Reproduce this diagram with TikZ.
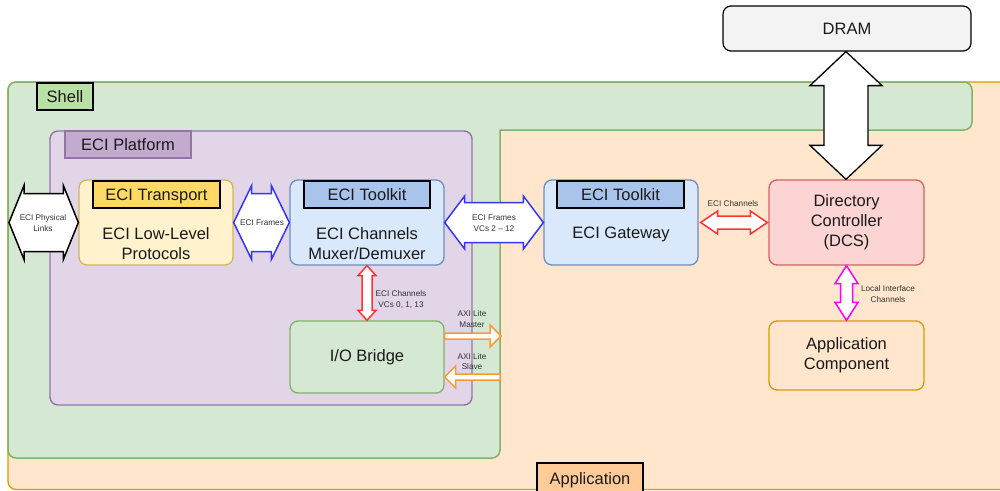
\documentclass[tikz,border=0pt]{standalone}
\usepackage{fontspec}
\setmainfont{Liberation Sans}
\usetikzlibrary{calc}

\definecolor{appfill}{HTML}{FFE6CC}
\definecolor{appline}{HTML}{D79B00}
\definecolor{applbl}{HTML}{FFCC99}
\definecolor{shellfill}{HTML}{D5E8D4}
\definecolor{shellline}{HTML}{82B366}
\definecolor{shelllbl}{HTML}{B9E0A5}
\definecolor{platfill}{HTML}{E1D5E7}
\definecolor{platline}{HTML}{9673A6}
\definecolor{platlbl}{HTML}{C3ABD0}
\definecolor{yelfill}{HTML}{FFF2CC}
\definecolor{yelline}{HTML}{D6B656}
\definecolor{yellbl}{HTML}{FFD966}
\definecolor{bluefill}{HTML}{DAE8FC}
\definecolor{blueline}{HTML}{6C8EBF}
\definecolor{bluelbl}{HTML}{A9C4EB}
\definecolor{redfill}{HTML}{FDD4D4}
\definecolor{redline}{HTML}{D06262}
\definecolor{greyfill}{HTML}{F3F3F3}
\definecolor{arblue}{HTML}{3535F5}
\definecolor{arred}{HTML}{FF3333}
\definecolor{armag}{HTML}{FF00FF}
\definecolor{arorange}{HTML}{FF9933}
\definecolor{txt}{HTML}{1A1A1A}
\definecolor{smalltxt}{HTML}{333333}

% double-headed block arrow: style, from, to, body half width, head half width, head length
\newcommand\dblarrow[6]{%
  \path[#1] let \p1=(#2), \p2=(#3),
      \n1={atan2(\y2-\y1,\x2-\x1)}, \n2={veclen(\x2-\x1,\y2-\y1)} in
    [shift={(\p1)}, rotate=\n1]
    (0,0) -- (#6,#5) -- (#6,#4) -- (\n2-#6,#4) -- (\n2-#6,#5) -- (\n2,0)
    -- (\n2-#6,-#5) -- (\n2-#6,-#4) -- (#6,-#4) -- (#6,-#5) -- cycle;}
% single-headed block arrow: style, tail, tip, body half width, head half width, head length
\newcommand\onearrow[6]{%
  \path[#1] let \p1=(#2), \p2=(#3),
      \n1={atan2(\y2-\y1,\x2-\x1)}, \n2={veclen(\x2-\x1,\y2-\y1)} in
    [shift={(\p1)}, rotate=\n1]
    (0,#4) -- (\n2-#6,#4) -- (\n2-#6,#5) -- (\n2,0)
    -- (\n2-#6,-#5) -- (\n2-#6,-#4) -- (0,-#4) -- cycle;}

\begin{document}
\begin{tikzpicture}[x=1pt,y=-1pt,
  mainfont/.style={font=\fontsize{16.5}{19.8}\selectfont, text=txt},
  smallfont/.style={font=\fontsize{8.2}{10.8}\selectfont, text=smalltxt, align=center},
  box/.style={draw, line width=1.3pt, rounded corners=8pt, inner sep=0pt},
  tag/.style={draw, line width=1.2pt, inner sep=0pt, mainfont, text height=11.8pt, text depth=0pt},
  bodytext/.style={mainfont, align=center, inner sep=0pt},
  blockarr/.style={fill=white, line width=1.5pt, line join=miter, miter limit=10},
]
\path[use as bounding box] (0,0) rectangle (1000,490);
\clip (0,0) rectangle (1000,490);

% Application region
\draw[fill=appfill, draw=appline, line width=1.3pt, rounded corners=8pt]
  (8,82) rectangle (1014,489.5);

% Shell region (L-shaped)
\draw[fill=shellfill, draw=shellline, line width=1.5pt, rounded corners=8pt]
  (8,82) -- (972,82) -- (972,130) [sharp corners] -- (500,130)
  [rounded corners=8pt] -- (500,458) -- (8,458) -- cycle;
\node[tag, fill=shelllbl, minimum width=56pt, minimum height=27pt] (shelltag) at (65,96.5) {Shell};

% ECI Platform
\draw[fill=platfill, draw=platline, line width=1.4pt, rounded corners=8pt]
  (50,131) rectangle (472,405);
\node[tag, draw=platline, fill=platlbl, minimum width=126pt, minimum height=27pt] (plattag) at (128,144.5) {ECI Platform};

\node[tag, fill=applbl, minimum width=106pt, minimum height=32pt] (apptag) at (590,479) {Application};

% functional blocks
\node[box, fill=yelfill, draw=yelline, minimum width=154pt, minimum height=85pt] (trans) at (156,222.5) {};
\node[tag, fill=yellbl, minimum width=127pt, minimum height=27pt] (transtag) at (156.5,194.5) {ECI Transport};
\node[bodytext] (transtxt) at (156,243.5) {ECI Low-Level\\Protocols};

\node[box, fill=bluefill, draw=blueline, minimum width=154pt, minimum height=85pt] (mux) at (367,222.5) {};
\node[tag, fill=bluelbl, minimum width=126pt, minimum height=27pt] (muxtag) at (367,194.5) {ECI Toolkit};
\node[bodytext] (muxtxt) at (367,243.5) {ECI Channels\\Muxer/Demuxer};

\node[box, fill=bluefill, draw=blueline, minimum width=154pt, minimum height=85pt] (gw) at (621,222.5) {};
\node[tag, fill=bluelbl, minimum width=127pt, minimum height=27pt] (gwtag) at (620.5,194.5) {ECI Toolkit};
\node[bodytext] (gwtxt) at (621,234) {ECI Gateway};

\node[box, fill=redfill, draw=redline, minimum width=155pt, minimum height=85pt, bodytext] (dcs) at (846.5,222.5) {Directory\\Controller\\(DCS)};

\node[box, fill=appfill, draw=appline, minimum width=155pt, minimum height=69pt, bodytext] (appc) at (846.5,355.5) {Application\\Component};

\node[box, fill=shellfill, draw=shellline, minimum width=154pt, minimum height=72pt, bodytext] (iob) at (367,357) {I/O Bridge};

\node[box, fill=greyfill, draw=black, line width=1.2pt, minimum width=248pt, minimum height=45pt, bodytext] (dram) at (847,28.5) {DRAM};

% connector end points on the region borders
\coordinate (phys) at (9,222.5);
\coordinate (axiout) at (501,336);
\coordinate (axiin) at (500,377);

% block arrows
\dblarrow{blockarr, draw=black}{phys}{trans.west}{29}{37}{15}
\dblarrow{blockarr, draw=arblue}{trans.east}{mux.west}{29}{37}{18}
\dblarrow{blockarr, draw=arblue}{mux.east}{gw.west}{20}{26.5}{20}
\dblarrow{blockarr, draw=arred}{$(gw.east)+(2,0)$}{$(dcs.west)+(-1,0)$}{6.5}{11.5}{17}
\dblarrow{blockarr, draw=arred}{mux.south}{iob.north}{5}{9}{10}
\dblarrow{blockarr, draw=armag}{dcs.south}{appc.north}{6}{11.5}{18}
\dblarrow{blockarr, draw=black, line width=1.3pt}{$(dram.south)+(-1,0)$}{$(dcs.north)+(-0.5,0)$}{22}{36}{34}
\onearrow{blockarr, draw=arorange}{iob.east |- axiout}{axiout}{3}{11}{11}
\onearrow{blockarr, draw=arorange}{axiin}{iob.east |- axiin}{3}{11}{11}

% arrow captions
\node[smallfont] (physlbl) at (43,223) {ECI Physical\\Links};
\node[smallfont] (frameslbl) at (262,222.5) {ECI Frames};
\node[smallfont] (vclbl) at (494,223.5) {ECI Frames\\VCs 2 -- 12};
\node[smallfont] (chlbl) at (733,204) {ECI Channels};
\node[smallfont] (vc2lbl) at (401,299.5) {ECI Channels\\VCs 0, 1, 13};
\node[smallfont] (mstlbl) at (472,319) {AXI Lite\\Master};
\node[smallfont] (slvlbl) at (472,361.5) {AXI Lite\\Slave};
\node[smallfont] (loclbl) at (888,294) {Local Interface\\Channels};
\end{tikzpicture}
\end{document}
